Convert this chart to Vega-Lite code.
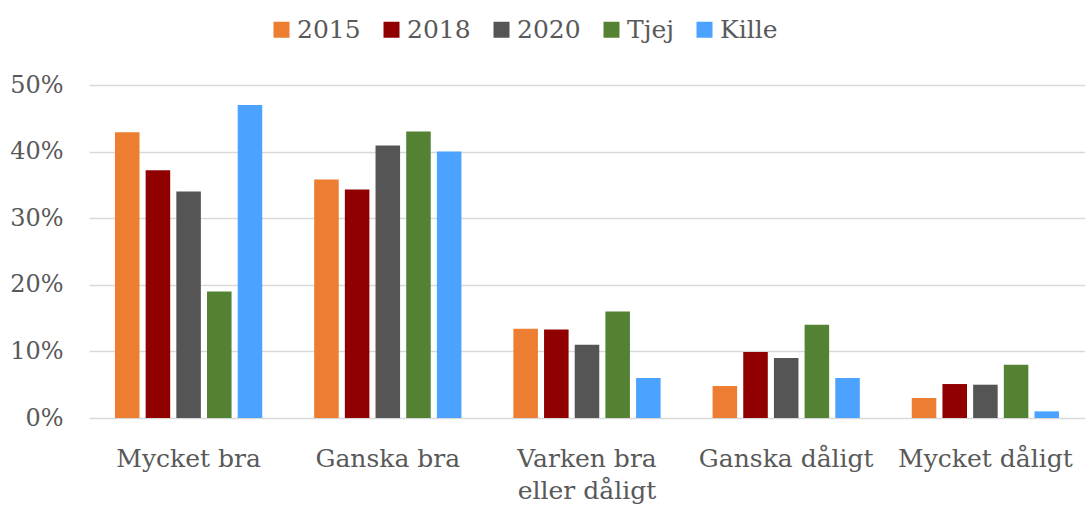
{
  "$schema": "https://vega.github.io/schema/vega-lite/v6.json",
  "width": 996,
  "height": 333,
  "autosize": "none",
  "padding": {"left": 89, "top": 85, "right": 0, "bottom": 89},
  "background": "white",
  "config": {
    "view": {"stroke": null},
    "font": "DejaVu Serif",
    "axis": {"labelFont": "DejaVu Serif", "labelColor": "#595959", "labelFontSize": 24, "gridColor": "#d9d9d9", "gridWidth": 1.6},
    "legend": {"labelFont": "DejaVu Serif", "labelColor": "#595959", "labelFontSize": 25}
  },
  "data": {
    "values": [
      {"category": "Mycket bra", "series": "2015", "value": 0.429},
      {"category": "Mycket bra", "series": "2018", "value": 0.372},
      {"category": "Mycket bra", "series": "2020", "value": 0.34},
      {"category": "Mycket bra", "series": "Tjej", "value": 0.19},
      {"category": "Mycket bra", "series": "Kille", "value": 0.47},
      {"category": "Ganska bra", "series": "2015", "value": 0.358},
      {"category": "Ganska bra", "series": "2018", "value": 0.343},
      {"category": "Ganska bra", "series": "2020", "value": 0.409},
      {"category": "Ganska bra", "series": "Tjej", "value": 0.43},
      {"category": "Ganska bra", "series": "Kille", "value": 0.40},
      {"category": "Varken bra eller dåligt", "series": "2015", "value": 0.134},
      {"category": "Varken bra eller dåligt", "series": "2018", "value": 0.133},
      {"category": "Varken bra eller dåligt", "series": "2020", "value": 0.11},
      {"category": "Varken bra eller dåligt", "series": "Tjej", "value": 0.16},
      {"category": "Varken bra eller dåligt", "series": "Kille", "value": 0.06},
      {"category": "Ganska dåligt", "series": "2015", "value": 0.048},
      {"category": "Ganska dåligt", "series": "2018", "value": 0.099},
      {"category": "Ganska dåligt", "series": "2020", "value": 0.09},
      {"category": "Ganska dåligt", "series": "Tjej", "value": 0.14},
      {"category": "Ganska dåligt", "series": "Kille", "value": 0.06},
      {"category": "Mycket dåligt", "series": "2015", "value": 0.03},
      {"category": "Mycket dåligt", "series": "2018", "value": 0.051},
      {"category": "Mycket dåligt", "series": "2020", "value": 0.05},
      {"category": "Mycket dåligt", "series": "Tjej", "value": 0.08},
      {"category": "Mycket dåligt", "series": "Kille", "value": 0.01}
    ]
  },
  "mark": {"type": "bar"},
  "encoding": {
    "x": {
      "field": "category",
      "type": "nominal",
      "sort": ["Mycket bra", "Ganska bra", "Varken bra eller dåligt", "Ganska dåligt", "Mycket dåligt"],
      "scale": {"paddingInner": 0.23, "paddingOuter": 0.115},
      "axis": {
        "title": null,
        "labelAngle": 0,
        "domain": false,
        "ticks": false,
        "labelFontSize": 25,
        "labelPadding": 28,
        "labelLineHeight": 32,
        "labelExpr": "datum.label == 'Varken bra eller dåligt' ? ['Varken bra', 'eller dåligt'] : datum.label"
      }
    },
    "xOffset": {
      "field": "series",
      "type": "nominal",
      "sort": ["2015", "2018", "2020", "Tjej", "Kille"],
      "scale": {"paddingInner": 0.2, "paddingOuter": 0.1}
    },
    "y": {
      "field": "value",
      "type": "quantitative",
      "scale": {"domain": [0, 0.5]},
      "axis": {
        "title": null,
        "format": ".0%",
        "values": [0, 0.1, 0.2, 0.3, 0.4, 0.5],
        "domain": false,
        "ticks": false,
        "labelPadding": 26
      }
    },
    "color": {
      "field": "series",
      "type": "nominal",
      "sort": ["2015", "2018", "2020", "Tjej", "Kille"],
      "scale": {
        "domain": ["2015", "2018", "2020", "Tjej", "Kille"],
        "range": ["#ED7D31", "#900000", "#555555", "#548235", "#4BA3FF"]
      },
      "legend": {
        "title": null,
        "orient": "none",
        "direction": "horizontal",
        "legendX": 180,
        "legendY": -68,
        "symbolType": "square",
        "symbolSize": 256,
        "symbolStrokeWidth": 0,
        "labelOffset": 3,
        "columnPadding": 18
      }
    }
  }
}
